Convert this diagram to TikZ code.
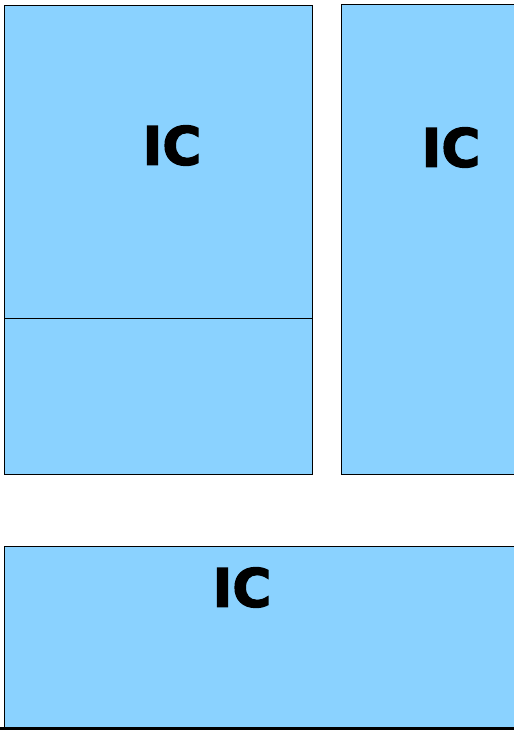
\documentclass[tikz,border=0pt]{standalone}
\usepackage{fontspec}
\setmainfont{DejaVu Sans}
\newfontfamily\heavyfont{DejaVu Sans Bold}[FakeBold=2.5]
\definecolor{icblue}{RGB}{138,210,255}
\begin{document}
\begin{tikzpicture}[x=1pt,y=-1pt,
  panel/.style={fill=icblue,draw=black,line width=1pt},
  lbl/.style={font=\heavyfont\fontsize{53}{53}\selectfont,text=black,inner sep=0pt,anchor=center}]
\useasboundingbox (0,0) rectangle (514,730);
\path[fill=white] (0,0) rectangle (514,730);
% left box
\draw[panel] (4,6) rectangle (312,474);
\draw[line width=1pt] (4,318) -- (312,318);
% right box (cut at right edge)
\draw[panel] (514,5) -- (341,5) -- (341,474) -- (514,474);
% bottom box
\path[fill=icblue] (4,546) rectangle (514,728);
\draw[line width=1pt] (514,546) -- (4,546) -- (4,728);
\draw[line width=3pt] (0,728.5) -- (514,728.5);
\node[lbl] (ic1) at (172,145.5) {IC};
\node[lbl] (ic2) at (451,147.5) {IC};
\node[lbl] (ic3) at (242,587.5) {IC};
\end{tikzpicture}
\end{document}
